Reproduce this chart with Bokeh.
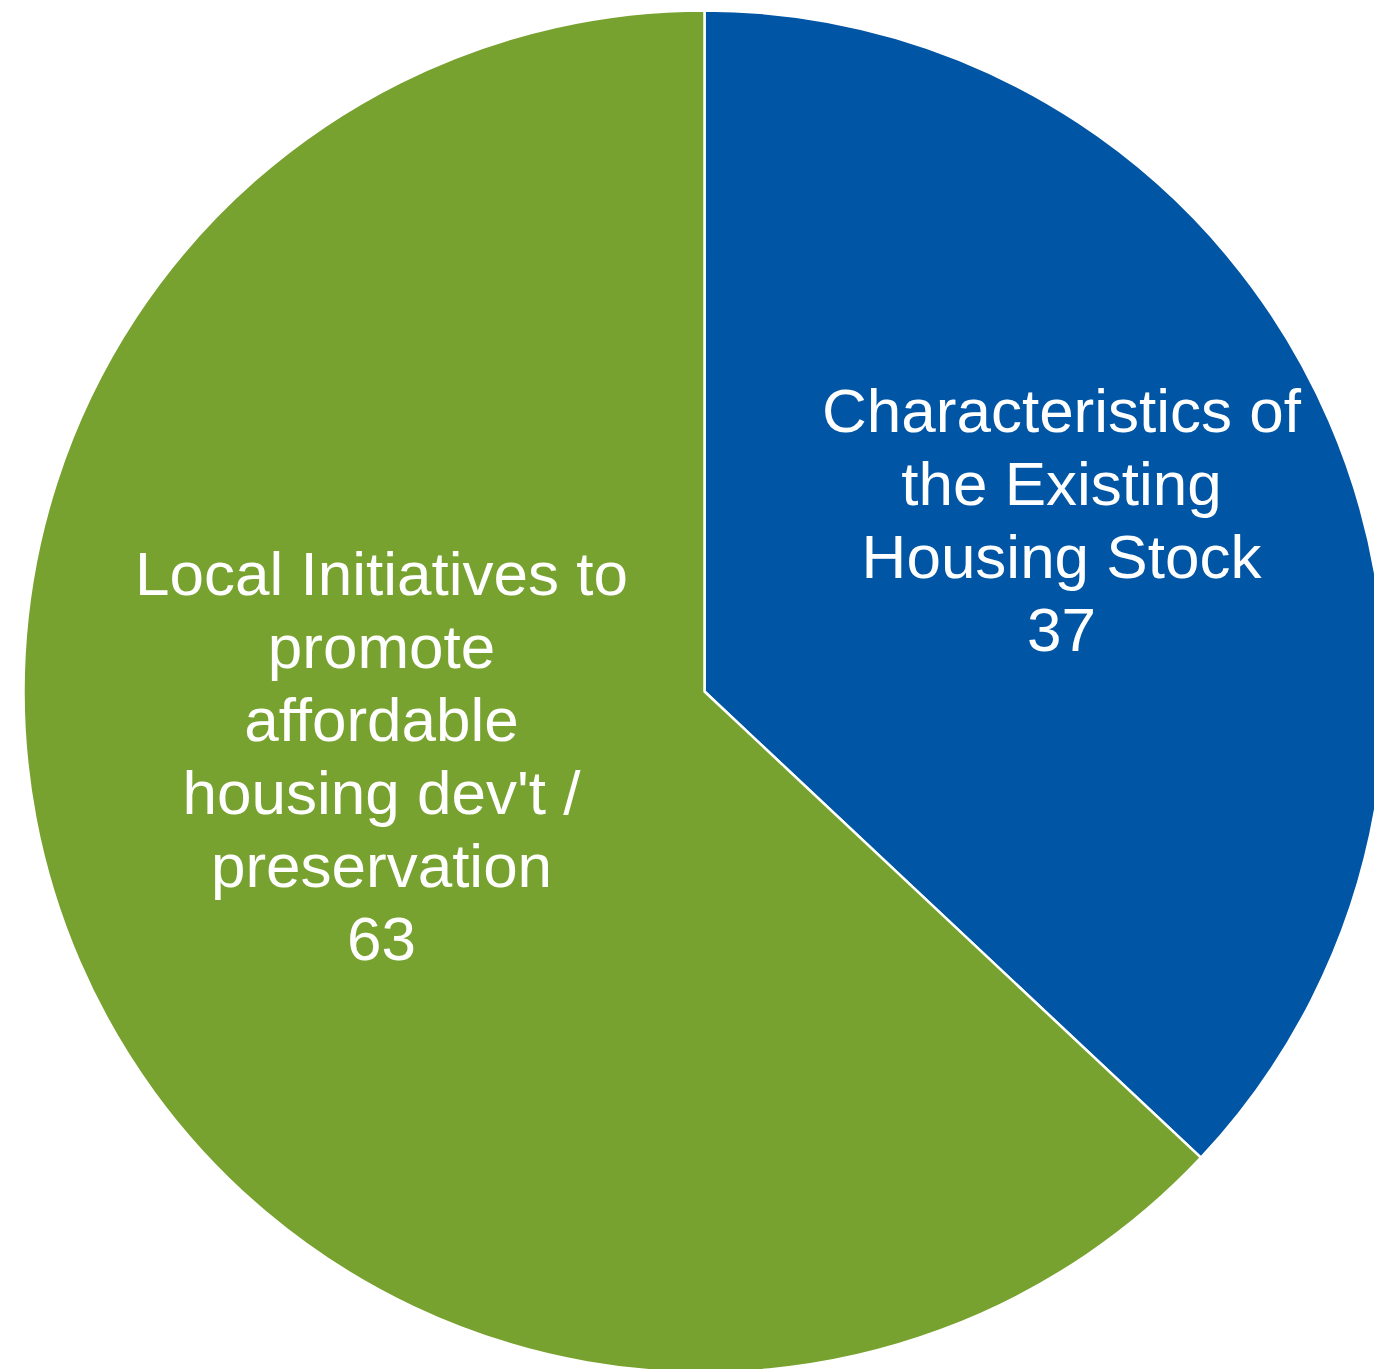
import numpy as np
from bokeh.plotting import figure
from bokeh.models import Range1d, ColumnDataSource
from bokeh.core.properties import value
from bokeh.embed import file_html
from bokeh.resources import INLINE

# ---- data ----
categories = ["Characteristics of the Existing Housing Stock",
              "Local Initiatives to promote affordable housing dev't / preservation"]
values = [37, 63]
colors = ["#0055A4", "#78A22F"]
label_lines = [
    ["Characteristics of", "the Existing", "Housing Stock", "37"],
    ["Local Initiatives to", "promote", "affordable", "housing dev't /", "preservation", "63"],
]

W, H = 1374, 1369
cx, cy, r = 704, H - 691, 681

p = figure(width=W, height=H, output_backend="svg", toolbar_location=None,
           x_range=Range1d(0, W), y_range=Range1d(0, H), min_border=0)
p.axis.visible = False
p.grid.visible = False
p.outline_line_color = None
p.background_fill_color = "white"
p.border_fill_color = "white"

vals = np.array(values, dtype=float)
frac = vals / vals.sum()
cum = np.concatenate([[0], np.cumsum(frac)])
start = np.pi / 2 - 2 * np.pi * cum[:-1]
end = np.pi / 2 - 2 * np.pi * cum[1:]

src = ColumnDataSource(dict(x=[cx] * len(vals), y=[cy] * len(vals),
                            start=start, end=end, color=colors, cat=categories))
p.wedge(x="x", y="y", radius=r, start_angle="start", end_angle="end",
        direction="clock", fill_color="color", line_color="white",
        line_width=2.5, source=src)

# label placement (screen baselines of first line, center x)
anchors = [(1061, 410), (381, 573)]
line_h = 73
tx, ty, tt = [], [], []
for (ax, ab), lines in zip(anchors, label_lines):
    for i, t in enumerate(lines):
        tx.append(ax)
        ty.append(H - (ab + i * line_h))
        tt.append(t)

p.text(x=tx, y=ty, text=tt, text_color="white", text_font=value("Liberation Sans"),
       text_font_size="62px", text_align="center", text_baseline="alphabetic")

open("out.html", "w").write(file_html(p, INLINE))
